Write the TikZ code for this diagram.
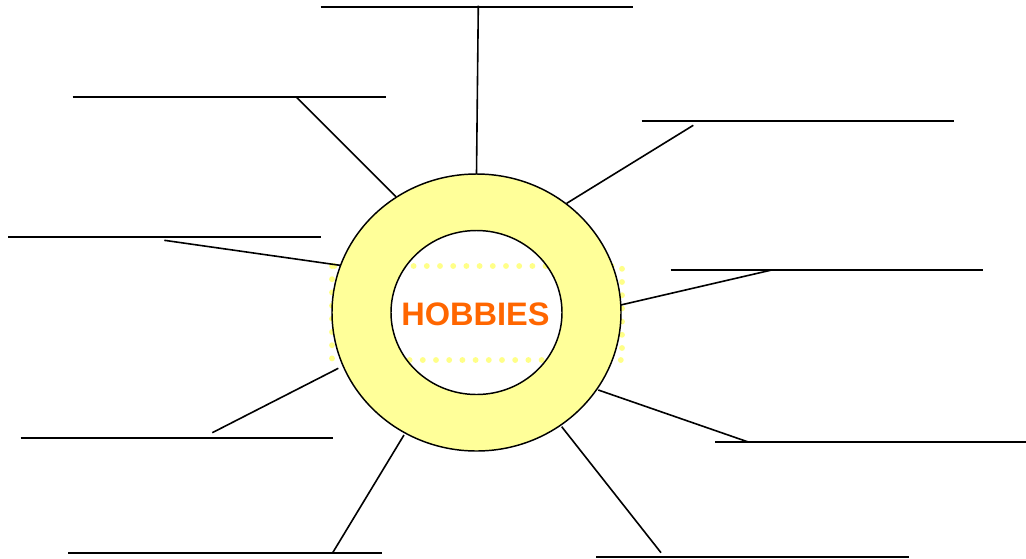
\documentclass[tikz,border=0pt]{standalone}
\usepackage{fontspec}
\setmainfont{Liberation Sans}
\definecolor{ringyellow}{HTML}{FFFF99}
\definecolor{dotyellow}{HTML}{FFFF88}
\definecolor{hobbyorange}{HTML}{FF6600}
\tikzset{
  blank/.style={line width=1.5pt, black},
  spoke/.style={line width=1.2pt, black},
  rim/.style={line width=1.1pt, black},
  dotframe/.style={dotyellow, line width=4.4pt, line cap=round, dash pattern=on 0pt off 9.9pt},
}
\begin{document}
\begin{tikzpicture}[x=0.75pt,y=-0.75pt]
\useasboundingbox (0,0) rectangle (1026,558);
\coordinate (c) at (476.5,312.5);
% dotted frame behind the ring
\draw[dotframe] (332,266) rectangle (622,360);
% ring
\path[fill=ringyellow, even odd rule] (c) ellipse [x radius=144.5, y radius=138.5]
  (c) ellipse [x radius=85.5, y radius=82];
\draw[rim] (c) ellipse [x radius=144.5, y radius=138.5];
\draw[rim] (c) ellipse [x radius=85.5, y radius=82];
\node[font=\fontsize{24.4pt}{27pt}\selectfont\bfseries, text=hobbyorange, inner sep=0pt] (hub) at (475.5,314.5) {HOBBIES};
% answer lines (start, end) and spoke start / ring end
\coordinate (t1) at (320.7,6.7);   \coordinate (t2) at (632.7,6.7);
\coordinate (ts) at (478.3,5.7);   \coordinate (te) at (476.5,174);
\coordinate (ul1) at (72.7,96.7);  \coordinate (ul2) at (385.7,96.7);
\coordinate (uls) at (296,96.7);   \coordinate (ule) at (396,196.7);
\coordinate (ur1) at (641.7,120.7);\coordinate (ur2) at (954.3,120.7);
\coordinate (urs) at (693.3,125.3);\coordinate (ure) at (566.7,203.3);
\coordinate (l1) at (8.3,237.3);   \coordinate (l2) at (321,237.3);
\coordinate (ls) at (164.3,240.3); \coordinate (le) at (340,265.3);
\coordinate (r1) at (670.7,270);   \coordinate (r2) at (983.3,270);
\coordinate (rs) at (771.7,270);   \coordinate (re) at (620.7,305);
\coordinate (ll1) at (20.7,438);   \coordinate (ll2) at (332.7,438);
\coordinate (lls) at (212.3,432.7);\coordinate (lle) at (338.3,368.3);
\coordinate (lr1) at (715,442);    \coordinate (lr2) at (1026,442);
\coordinate (lrs) at (748.3,442);  \coordinate (lre) at (598.3,390);
\coordinate (bl1) at (68.3,552.7); \coordinate (bl2) at (381.7,552.7);
\coordinate (bls) at (332.7,552.7);\coordinate (ble) at (404,435);
\coordinate (br1) at (596,556.7);  \coordinate (br2) at (909.3,556.7);
\coordinate (brs) at (661,552.7);  \coordinate (bre) at (561.7,426.7);
\foreach \n in {t,ul,ur,l,r,ll,lr,bl,br}{
  \draw[blank] (\n1) -- (\n2);
  \draw[spoke] (\n s) -- (\n e);
}
\end{tikzpicture}
\end{document}
